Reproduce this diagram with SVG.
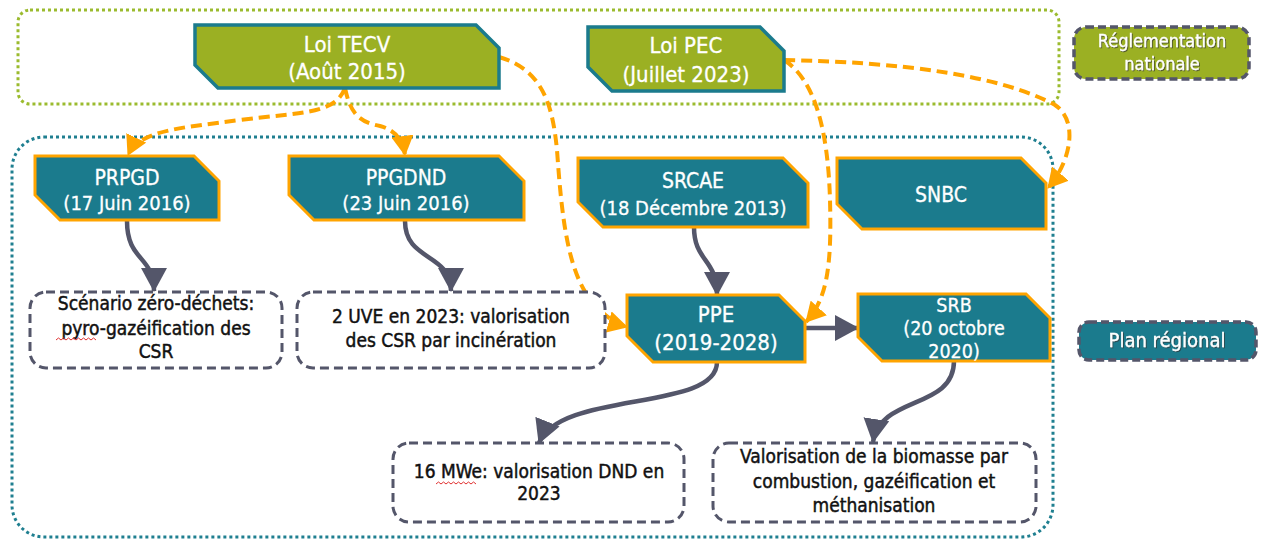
<svg xmlns="http://www.w3.org/2000/svg" width="1262" height="542" viewBox="0 0 1262 542">
<defs>
<style>
.t{font-family:"DejaVu Sans Condensed","DejaVu Sans",sans-serif;font-stretch:condensed;text-anchor:middle}
.w{fill:#ffffff;stroke:#ffffff;stroke-width:0.3}
.k{fill:#111111;stroke:#111111;stroke-width:0.45}
.n22{font-size:22px}
.n20{font-size:20px}
.n21{font-size:21px}
.b19{font-size:19px}
.green{fill:#9BB023;stroke:#1B7B8D;stroke-width:3.5}
.teal{fill:#1B7B8D;stroke:#FFA400;stroke-width:3}
.box{fill:#ffffff;stroke:#54566A;stroke-width:3;stroke-dasharray:9 5}
.leg{stroke:#54566A;stroke-width:3.5;stroke-dasharray:8 4}
.gc{fill:none;stroke:#54566A;stroke-width:4.5}
.oc{fill:none;stroke:#FFA400;stroke-width:4;stroke-dasharray:11 6}
.sq{fill:none;stroke:#E03030;stroke-width:1}
</style>
<marker id="ga" markerUnits="userSpaceOnUse" markerWidth="24" markerHeight="26" viewBox="0 0 24 26" refX="23" refY="13" orient="auto"><path d="M0,0 L24,13 L0,26 Z" fill="#54566A"/></marker>
<marker id="oa" markerUnits="userSpaceOnUse" markerWidth="20" markerHeight="22" viewBox="0 0 20 22" refX="19" refY="11" orient="auto"><path d="M0,0 L20,11 L0,22 Z" fill="#FFA400"/></marker>
<filter id="sh" x="-10%" y="-10%" width="120%" height="130%"><feDropShadow dx="1" dy="1" stdDeviation="0.6" flood-color="#333333" flood-opacity="0.7"/></filter>
</defs>

<g id="containers">
<rect x="18" y="10" width="1041" height="94" rx="12" fill="none" stroke="#9BBB2E" stroke-width="3" stroke-dasharray="3 3"/>
<rect x="12" y="137" width="1041" height="400" rx="32" fill="none" stroke="#1F7F90" stroke-width="3" stroke-dasharray="3 3"/>
</g>

<g id="connectors">
<path class="gc" d="M127,221 C127,262 154,255 154,291" marker-end="url(#ga)"/>
<path class="gc" d="M405,221 C405,262 451,252 451,291" marker-end="url(#ga)"/>
<path class="gc" d="M694,227 C694,262 717,258 717,295" marker-end="url(#ga)"/>
<path class="gc" d="M805,328 L858,328" marker-end="url(#ga)"/>
<path class="gc" d="M717,362 C717,412 560,390 539,443" marker-end="url(#ga)"/>
<path class="gc" d="M954,361 C954,410 880,395 873,442" marker-end="url(#ga)"/>
<path class="oc" d="M345,88 C335,115 300,112 240,120 C180,128 140,130 128,155" marker-end="url(#oa)"/>
<path class="oc" d="M345,88 C350,112 358,122 380,126 C395,130 403,140 405,155" marker-end="url(#oa)"/>
<path class="oc" d="M499,57 C545,70 553,110 557,150 C562,220 568,280 598,308 C608,318 616,324 627,327" marker-end="url(#oa)"/>
<path class="oc" d="M784,60 C900,62 1000,75 1055,105 C1078,120 1072,160 1048,188" marker-end="url(#oa)"/>
<path class="oc" d="M784,60 C815,80 828,130 830,200 C832,270 826,300 806,322" marker-end="url(#oa)"/>
</g>

<g id="loi-tecv">
<path class="green" d="M195,25 L476,25 L499,48 L499,88 L218,88 L195,65 Z"/>
<text class="t w n22" x="347" y="52">Loi TECV</text>
<text class="t w n22" x="347" y="79">(Août 2015)</text>
</g>
<g id="loi-pec">
<path class="green" d="M588,27 L760,27 L784,51 L784,91 L612,91 L588,67 Z"/>
<text class="t w n22" x="686" y="53">Loi PEC</text>
<text class="t w n22" x="686" y="82">(Juillet 2023)</text>
</g>
<g id="reglementation">
<rect class="leg" x="1074" y="27" width="175" height="52" rx="12" fill="#9BB023"/>
<text class="t w" font-size="18" x="1162" y="47" filter="url(#sh)">Réglementation</text>
<text class="t w" font-size="18" x="1162" y="70" filter="url(#sh)">nationale</text>
</g>

<g id="prpgd">
<path class="teal" d="M35,156 L194,156 L219,181 L219,220 L60,220 L35,195 Z"/>
<text class="t w n21" x="127" y="185">PRPGD</text>
<text class="t w n20" x="127" y="210">(17 Juin 2016)</text>
</g>
<g id="ppgdnd">
<path class="teal" d="M289,156 L499,156 L524,181 L524,220 L314,220 L289,195 Z"/>
<text class="t w n21" x="406" y="185">PPGDND</text>
<text class="t w n20" x="406" y="210">(23 Juin 2016)</text>
</g>
<g id="srcae">
<path class="teal" d="M578,158 L783,158 L808,183 L808,227 L603,227 L578,202 Z"/>
<text class="t w n21" x="693" y="188">SRCAE</text>
<text class="t w n20" x="693" y="215">(18 Décembre 2013)</text>
</g>
<g id="snbc">
<path class="teal" d="M837,158 L1021,158 L1046,183 L1046,229 L862,229 L837,204 Z"/>
<text class="t w n21" x="941" y="202">SNBC</text>
</g>
<g id="ppe">
<path class="teal" d="M627,295 L779,295 L805,321 L805,362 L653,362 L627,336 Z"/>
<text class="t w n22" x="716" y="322">PPE</text>
<text class="t w n22" x="716" y="350">(2019-2028)</text>
</g>
<g id="srb">
<path class="teal" d="M858,294 L1026,294 L1050,318 L1050,361 L882,361 L858,337 Z"/>
<text class="t w" font-size="19.5" x="954" y="312">SRB</text>
<text class="t w" font-size="19.5" x="954" y="335">(20 octobre</text>
<text class="t w" font-size="19.5" x="954" y="358">2020)</text>
</g>
<g id="plan-regional">
<rect class="leg" x="1079" y="322" width="177" height="38" rx="10" fill="#1B7B8D"/>
<text class="t w n20" x="1167" y="347" filter="url(#sh)">Plan régional</text>
</g>

<g id="scenario">
<rect class="box" x="30" y="292" width="252" height="76" rx="16"/>
<text class="t k b19" x="156" y="310">Scénario zéro-déchets:</text>
<text class="t k b19" x="156" y="335">pyro-gazéification des</text>
<text class="t k b19" x="156" y="358">CSR</text>
<path class="sq" d="M56,340 l2.5,-2 l2.5,2 l2.5,-2 l2.5,2 l2.5,-2 l2.5,2 l2.5,-2 l2.5,2 l2.5,-2 l2.5,2 l2.5,-2 l2.5,2 l2.5,-2 l2.5,2 l2.5,-2 l2.5,2"/>
</g>
<g id="uve">
<rect class="box" x="297" y="292" width="308" height="76" rx="16"/>
<text class="t k b19" x="451" y="323">2 UVE en 2023: valorisation</text>
<text class="t k b19" x="451" y="347">des CSR par incinération</text>
</g>
<g id="mwe">
<rect class="box" x="393" y="443" width="291" height="79" rx="16"/>
<text class="t k b19" x="539" y="478">16 MWe: valorisation DND en</text>
<text class="t k b19" x="539" y="500">2023</text>
<path class="sq" d="M436,484 l2.5,-2 l2.5,2 l2.5,-2 l2.5,2 l2.5,-2 l2.5,2 l2.5,-2 l2.5,2 l2.5,-2 l2.5,2 l2.5,-2 l2.5,2 l2.5,-2 l2.5,2 l2.5,-2 l2.5,2"/>
</g>
<g id="biomasse">
<rect class="box" x="713" y="443" width="323" height="79" rx="16"/>
<text class="t k b19" x="874" y="463">Valorisation de la biomasse par</text>
<text class="t k b19" x="874" y="488">combustion, gazéification et</text>
<text class="t k b19" x="874" y="512">méthanisation</text>
</g>
</svg>
